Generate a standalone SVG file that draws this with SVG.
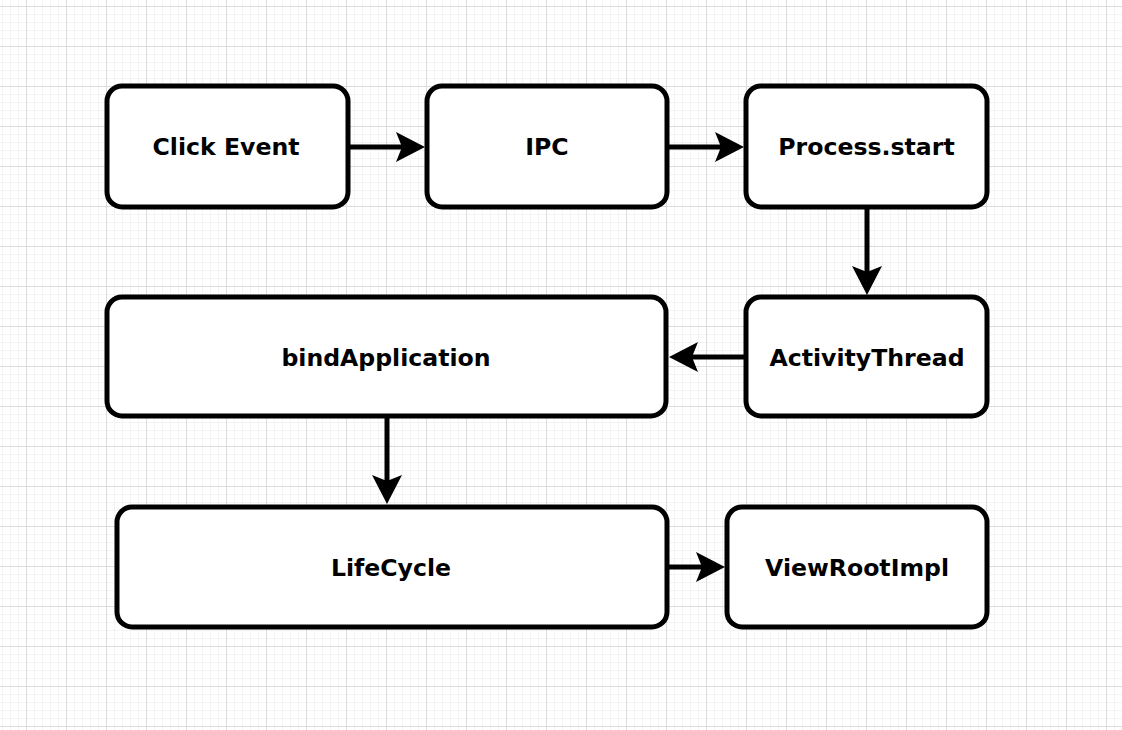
<svg xmlns="http://www.w3.org/2000/svg" width="1122" height="730" viewBox="0 0 1122 730">
  <style>
    .node rect { fill: #ffffff; stroke: #000000; stroke-width: 5; }
    .node text { font-family: "DejaVu Sans", Verdana, sans-serif; font-weight: bold; font-size: 23.6px; fill: #000000; text-anchor: middle; }
    .edge { stroke: #000000; stroke-width: 5; fill: none; marker-end: url(#arrow); }
  </style>
  <defs>
    <pattern id="minor" x="26" y="6" width="8" height="8" patternUnits="userSpaceOnUse">
      <path d="M0,0.5 H8 M0.5,0 V8" stroke="#f3f3f3" stroke-width="1" fill="none"/>
    </pattern>
    <pattern id="major" x="26" y="6" width="40" height="40" patternUnits="userSpaceOnUse">
      <path d="M0,0.5 H40 M0.5,0 V40" stroke="#dcdcdc" stroke-width="1" fill="none"/>
    </pattern>
    <marker id="arrow" markerUnits="userSpaceOnUse" viewBox="-30 -16 31 32" refX="-20" refY="0" markerWidth="31" markerHeight="32" orient="auto">
      <path d="M0,0 L-29,-15 L-23,0 L-29,15 Z" fill="#000000"/>
    </marker>
  </defs>
  <rect x="0" y="0" width="1122" height="730" fill="#ffffff"/>
  <rect x="0" y="0" width="1122" height="730" fill="url(#minor)"/>
  <rect x="0" y="0" width="1122" height="730" fill="url(#major)"/>

  <g id="connectors">
    <path class="edge" d="M350,147 H405"/>
    <path class="edge" d="M669,147 H724"/>
    <path class="edge" d="M867,209 V275"/>
    <path class="edge" d="M744,357 H689"/>
    <path class="edge" d="M387,418 V484"/>
    <path class="edge" d="M669,567 H705"/>
  </g>

  <g id="click-event" class="node">
    <rect x="107" y="86" width="241" height="121" rx="15" ry="15"/>
    <text x="226" y="154.5">Click Event</text>
  </g>
  <g id="ipc" class="node">
    <rect x="427" y="86" width="240" height="121" rx="15" ry="15"/>
    <text x="547" y="154.5">IPC</text>
  </g>
  <g id="process-start" class="node">
    <rect x="746" y="86" width="241" height="121" rx="15" ry="15"/>
    <text x="866.5" y="154.5">Process.start</text>
  </g>
  <g id="activity-thread" class="node">
    <rect x="746" y="297" width="241" height="119" rx="15" ry="15"/>
    <text x="867" y="365.5">ActivityThread</text>
  </g>
  <g id="bind-application" class="node">
    <rect x="107" y="297" width="559" height="119" rx="15" ry="15"/>
    <text x="386" y="365.5">bindApplication</text>
  </g>
  <g id="lifecycle" class="node">
    <rect x="117" y="507" width="550" height="120" rx="15" ry="15"/>
    <text x="391" y="575.5">LifeCycle</text>
  </g>
  <g id="view-root-impl" class="node">
    <rect x="727" y="507" width="260" height="120" rx="15" ry="15"/>
    <text x="857" y="575.5">ViewRootImpl</text>
  </g>
</svg>
